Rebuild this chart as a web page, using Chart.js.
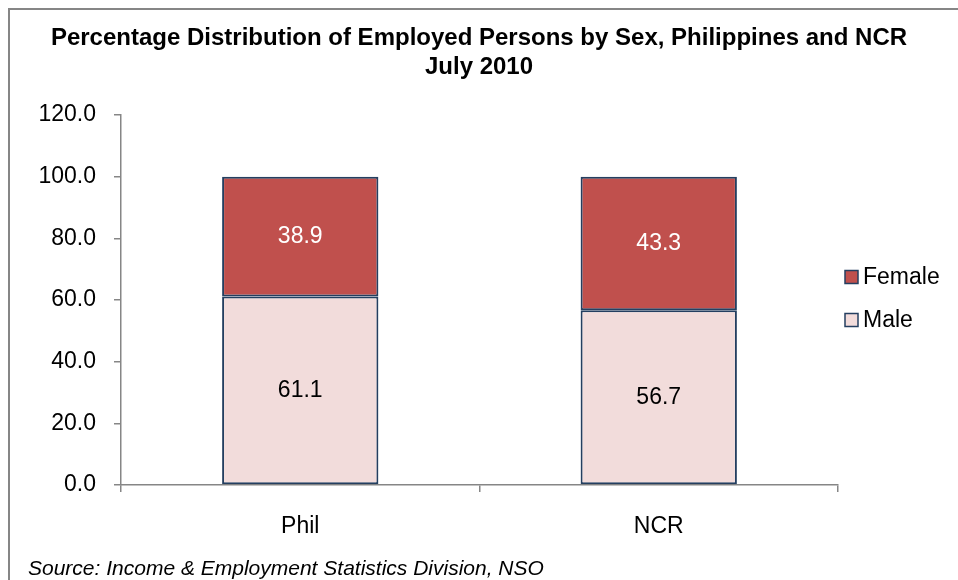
<!DOCTYPE html>
<html>
<head>
<meta charset="utf-8">
<script src="https://cdn.jsdelivr.net/npm/chart.js@4.4.1/dist/chart.umd.min.js"></script>
<style>
  html, body { margin: 0; padding: 0; background: #fff; }
  canvas { display: block; }
</style>
</head>
<body>
<canvas id="chart" width="958" height="580"></canvas>
<script>
// data
const categories = ['Phil', 'NCR'];
const maleValues = [61.1, 56.7];
const femaleValues = [38.9, 43.3];
const seriesNames = ['Male', 'Female'];
const yTicks = [0, 20, 40, 60, 80, 100, 120];
const titleLines = [
  'Percentage Distribution of Employed Persons by Sex, Philippines and NCR',
  'July 2010'
];
const sourceNote = 'Source: Income & Employment Statistics Division, NSO';

const FONT = "'Liberation Sans', Arial, sans-serif";
const axisGray = '#868686';
const barEdge = '#243F60';

// outer frame, data labels, legend and source line
const decorations = {
  id: 'decorations',
  beforeDraw(chart) {
    const ctx = chart.ctx;
    ctx.save();
    ctx.fillStyle = '#fff';
    ctx.fillRect(0, 0, chart.width, chart.height);
    ctx.strokeStyle = axisGray;
    ctx.lineWidth = 2;
    ctx.strokeRect(9, 9, chart.width + 20, chart.height + 20);
    ctx.restore();
  },
  afterDatasetsDraw(chart) {
    const ctx = chart.ctx;
    ctx.save();
    ctx.font = '23px ' + FONT;
    ctx.textAlign = 'center';
    ctx.textBaseline = 'middle';
    chart.data.datasets.forEach((ds, di) => {
      const meta = chart.getDatasetMeta(di);
      meta.data.forEach((bar, i) => {
        ctx.fillStyle = di === 1 ? '#fff' : '#000';
        ctx.fillText(ds.data[i].toFixed(1), bar.x, (bar.y + bar.base) / 2);
      });
    });
    ctx.restore();
  },
  afterDraw(chart) {
    const ctx = chart.ctx;
    const area = chart.chartArea;
    ctx.save();
    // legend, Female on top like the original
    const mid = (area.top + area.bottom) / 2;
    const order = [1, 0];
    ctx.font = '23px ' + FONT;
    ctx.textAlign = 'left';
    ctx.textBaseline = 'middle';
    order.forEach((di, k) => {
      const ds = chart.data.datasets[di];
      const cy = mid - 23 + k * 43;
      const bx = area.right + 7;
      ctx.fillStyle = ds.backgroundColor;
      ctx.fillRect(bx, cy - 6.5, 13, 13);
      ctx.strokeStyle = barEdge;
      ctx.lineWidth = 1.5;
      ctx.strokeRect(bx, cy - 6.5, 13, 13);
      ctx.fillStyle = '#000';
      ctx.fillText(ds.label, bx + 18, cy + 1);
    });
    // source line
    ctx.font = 'italic 21px ' + FONT;
    ctx.fillStyle = '#000';
    ctx.fillText(sourceNote, 28, 569);
    ctx.restore();
  }
};

new Chart(document.getElementById('chart'), {
  type: 'bar',
  data: {
    labels: categories,
    datasets: [
      {
        label: seriesNames[0],
        data: maleValues,
        backgroundColor: '#F2DCDB',
        borderColor: barEdge,
        borderWidth: 2,
        borderSkipped: false
      },
      {
        label: seriesNames[1],
        data: femaleValues,
        backgroundColor: '#C0504D',
        borderColor: barEdge,
        borderWidth: 2,
        borderSkipped: false
      }
    ]
  },
  options: {
    responsive: false,
    animation: false,
    devicePixelRatio: 1,
    barPercentage: 0.436,
    categoryPercentage: 1,
    layout: { padding: 0 },
    plugins: {
      legend: { display: false },
      tooltip: { enabled: false },
      title: {
        display: true,
        text: titleLines,
        color: '#000',
        font: { family: FONT, size: 24, weight: 'bold', lineHeight: '29px' },
        padding: { top: 24, bottom: 33 }
      }
    },
    scales: {
      x: {
        stacked: true,
        grid: {
          drawOnChartArea: false,
          drawTicks: true,
          tickLength: 7,
          color: axisGray,
          lineWidth: 1.5
        },
        border: { display: true, color: axisGray, width: 1.5 },
        ticks: { color: '#000', font: { family: FONT, size: 23 }, padding: 21 },
        afterFit(scale) {
          scale.height = 95;
          scale.paddingRight = 120; // room for the legend
        }
      },
      y: {
        stacked: true,
        min: 0,
        max: 120,
        afterBuildTicks(scale) {
          scale.ticks = yTicks.map(v => ({ value: v }));
        },
        grid: {
          drawOnChartArea: false,
          drawTicks: true,
          tickLength: 7,
          color: axisGray,
          lineWidth: 1.5
        },
        border: { display: true, color: axisGray, width: 1.5 },
        ticks: {
          color: '#000',
          font: { family: FONT, size: 23 },
          padding: 18,
          callback: v => v.toFixed(1)
        },
        afterFit(scale) {
          scale.width = 121;
        }
      }
    }
  },
  plugins: [decorations]
});
</script>
</body>
</html>
